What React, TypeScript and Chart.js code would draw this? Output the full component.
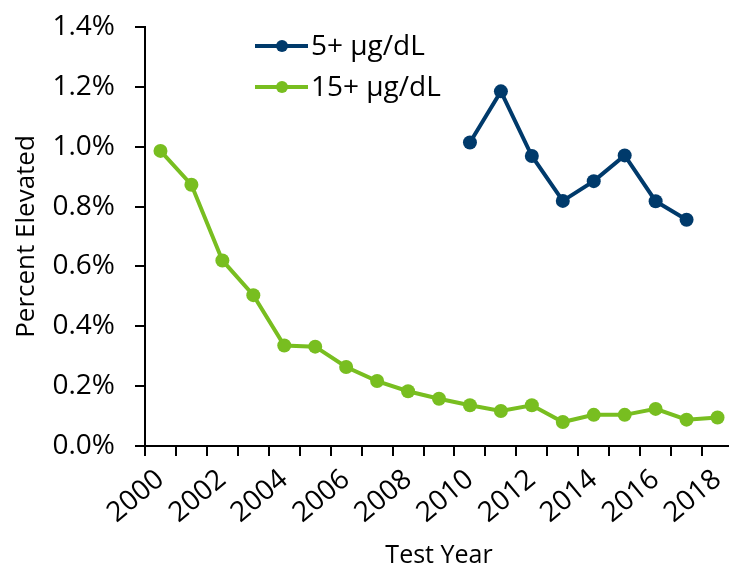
import React, { useEffect, useRef } from "react";
import { Chart, registerables } from "chart.js";

Chart.register(...registerables);

const years = [
  "2000", "2001", "2002", "2003", "2004", "2005", "2006", "2007", "2008", "2009",
  "2010", "2011", "2012", "2013", "2014", "2015", "2016", "2017", "2018",
];

const series5Label = "5+ µg/dL";
const series5 = [
  null, null, null, null, null, null, null, null, null, null,
  1.014, 1.185, 0.969, 0.819, 0.885, 0.971, 0.818, 0.756, null,
];

const series15Label = "15+ µg/dL";
const series15 = [
  0.986, 0.873, 0.62, 0.504, 0.336, 0.332, 0.264, 0.217, 0.183, 0.158,
  0.136, 0.117, 0.136, 0.08, 0.104, 0.104, 0.124, 0.088, 0.095,
];

const yMin = 0;
const yMax = 1.4;
const yStep = 0.2;

const BLUE = "#003A6B";
const GREEN = "#78BE20";
const FONT_FAMILY = "'Open Sans', sans-serif";
const TICK_SIZE = 28;
const LEGEND_SIZE = 28;

const legendPlugin = {
  id: "lineMarkerLegend",
  afterDraw(chart: any) {
    const ctx = chart.ctx;
    const area = chart.chartArea;
    const x0 = area.left + 110;
    chart.data.datasets.forEach((ds: any, i: number) => {
      const y = 46 + i * 41;
      ctx.save();
      ctx.strokeStyle = ds.borderColor;
      ctx.lineWidth = 4;
      ctx.beginPath();
      ctx.moveTo(x0, y);
      ctx.lineTo(x0 + 53, y);
      ctx.stroke();
      ctx.fillStyle = ds.pointBackgroundColor;
      ctx.beginPath();
      ctx.arc(x0 + 27, y, 6, 0, Math.PI * 2);
      ctx.fill();
      ctx.fillStyle = "#000";
      ctx.font = `${LEGEND_SIZE}px ${FONT_FAMILY}`;
      ctx.textBaseline = "middle";
      ctx.textAlign = "left";
      ctx.fillText(ds.label, x0 + 56, y + 1);
      ctx.restore();
    });
  },
};

export default function App() {
  const ref = useRef<HTMLCanvasElement | null>(null);

  useEffect(() => {
    if (!ref.current) return;
    const font = { family: FONT_FAMILY, size: TICK_SIZE };
    const xTitleFont = { family: FONT_FAMILY, size: 25, lineHeight: 1 };
    const yTitleFont = { family: FONT_FAMILY, size: 26, lineHeight: 1 };
    const chart = new Chart(ref.current, {
      type: "line",
      data: {
        labels: years,
        datasets: [
          {
            label: series5Label,
            data: series5,
            borderColor: BLUE,
            backgroundColor: BLUE,
            pointBackgroundColor: BLUE,
            pointBorderWidth: 0,
            pointRadius: 7,
            pointHoverRadius: 7,
            borderWidth: 4,
            tension: 0,
            spanGaps: false,
          },
          {
            label: series15Label,
            data: series15,
            borderColor: GREEN,
            backgroundColor: GREEN,
            pointBackgroundColor: GREEN,
            pointBorderWidth: 0,
            pointRadius: 7,
            pointHoverRadius: 7,
            borderWidth: 4,
            tension: 0,
          },
        ],
      },
      options: {
        animation: false,
        responsive: false,
        maintainAspectRatio: false,
        layout: { padding: { top: 27, right: 12, left: 0, bottom: 0 } },
        plugins: {
          legend: { display: false },
          tooltip: { enabled: false },
        },
        scales: {
          x: {
            type: "category",
            offset: true,
            grid: {
              offset: true,
              drawOnChartArea: false,
              drawTicks: true,
              tickLength: 10,
              color: "#000",
              lineWidth: 2,
            },
            border: { display: true, color: "#000", width: 2 },
            ticks: {
              autoSkip: false,
              maxRotation: 40,
              minRotation: 40,
              padding: 7,
              color: "#000",
              font,
              callback: (_v: any, i: number) => (i % 2 === 0 ? years[i] : ""),
            },
            title: {
              display: true,
              text: "Test Year",
              color: "#000",
              font: xTitleFont,
              padding: { top: 0, bottom: -3.5 },
            },
            afterFit: (s: any) => {
              s.height = 119;
              s.paddingLeft = 0;
              s.paddingRight = 0;
            },
          } as any,
          y: {
            min: yMin,
            max: yMax,
            grid: {
              drawOnChartArea: false,
              drawTicks: true,
              tickLength: 10,
              color: "#000",
              lineWidth: 2,
            },
            border: { display: true, color: "#000", width: 2 },
            ticks: {
              stepSize: yStep,
              padding: 20,
              color: "#000",
              font,
              callback: (v: any) => `${Number(v).toFixed(1)}%`,
            },
            title: {
              display: true,
              text: "Percent Elevated",
              color: "#000",
              font: yTitleFont,
              padding: { top: 14, bottom: 0 },
            },
            afterFit: (s: any) => {
              s.width = 145;
              s.paddingTop = 0;
              s.paddingBottom = 0;
            },
          } as any,
        },
      },
      plugins: [legendPlugin],
    });
    return () => chart.destroy();
  }, []);

  return (
    <div
      style={{
        position: "fixed",
        left: 0,
        top: 0,
        width: 729,
        height: 565,
        overflow: "hidden",
        background: "#fff",
      }}
    >
      <canvas ref={ref} width={745} height={565} style={{ display: "block", width: 745, height: 565 }} />
    </div>
  );
}
